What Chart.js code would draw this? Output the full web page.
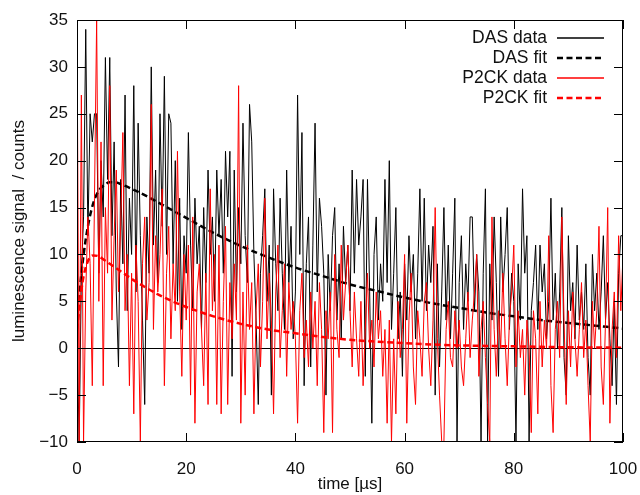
<!DOCTYPE html>
<html>
<head>
<meta charset="utf-8">
<script src="https://cdn.jsdelivr.net/npm/chart.js@4.4.1/dist/chart.umd.min.js"></script>
<style>
  html, body { margin: 0; padding: 0; background: #fff; }
  #wrap { width: 640px; height: 495px; }
</style>
</head>
<body>
<div id="wrap"><canvas id="chart" width="640" height="495"></canvas></div>
<script>
// one sample every 0.4 us, 0 .. 100 us
const timeStep = 0.4;

// DAS transient (counts)
const dasData = [
    2, -10, 8, 14, 34, 12, 25, 22, 25, 25, 8, 20, 14, 31, 18, 31, 12, 22, 6, -2, 18, 9, 27, 4, 16,
    10, 28, 6, 24, 12, 3, -6, 14, 8, 30, 11, 19, 7, 25, 13, 29, 10, 25, 24, 9, 20, 5, 16, 2, 12,
    8, 23, 11, 4, 16, 9, 13, 2, 15, 7, 19, 10, 14, 5, 19, 12, 18, 8, 21, 14, 21, -3, 19, 6, 15,
    9, 24, 12, 7, 26, 22, 10, 3, -6, 8, 12, 17, 5, 11, -5, 17, 9, 4, 16, 8, 2, 19, 7, 13, 1,
    6, 27, 10, 23, -4, 9, 14, -2, 11, 24, 6, 16, 13, 8, -5, 10, 4, 12, 15, 3, 9, 1, 13, 7, 11,
    4, 19, 8, 18, 11, 14, 18, -3, 18, 6, -8, 10, 14, 3, 9, 5, 18, 7, 20, 2, 8, 15, 1, 6, -3,
    9, 3, 12, 6, 10, 1, 8, 17, 5, 16, 4, 11, 7, 13, -5, 9, -2, 6, 15, 3, 11, 1, 8, 16, -10,
    7, 12, 2, 9, 5, 14, 14, 4, 10, 6, -10, 8, 17, -10, 9, 3, 14, 7, -3, 14, 6, 10, 15, 2, 8,
    5, -10, 9, 3, 17, 8, 12, -10, 4, 7, 11, 2, 11, 6, 9, 1, 5, 16, 3, 8, 0, 6, 15, -1, -5,
    12, 4, 7, 1, 11, 3, 6, 2, 9, -1, -5, 10, 4, 8, 2, 6, 12, 3, 7, 1, -4, 5, -6, 8, 12, 12
];

// P2CK transient (counts)
const p2ckData = [
    35, -10, 27, -10, 6, 14, 9, -4, 16, 35, 5, 22, -4, 15, 8, 28, 3, 12, 19, 6, 13, 23, 4, 10, -4,
    8, -7, 11, 5, -10, 9, 14, 3, 7, 26, 2, 12, 6, 10, 17, -4, 8, 13, 1, 9, 4, 21, 6, -3, 10,
    3, 11, -5, 14, -8, 6, 9, 2, -4, 8, -6, 17, 4, 10, -6, 11, -7, 5, 13, -6, 7, 1, 9, 3, 28,
    -8, 6, -5, 11, 2, 7, -7, 4, 9, -2, 5, 16, 1, 8, 3, -7, 6, 11, -1, 4, 9, -3, 7, 2, 5,
    1, -8, 4, 8, -1, 3, -2, 6, 0, 5, -4, 7, 2, -9, 4, 1, 6, -9, 10, 2, -1, 11, 3, 7, 11,
    4, -2, 6, 1, -3, 5, -4, 2, 8, 0, 3, -2, 6, 1, 4, -3, 2, -8, 3, -10, 1, -7, 5, -1, 2,
    10, -8, 3, 8, -2, -6, 4, 1, -3, 5, 7, 0, -4, 3, 15, 1, -5, -10, -10, 2, 5, -1, -2, 4, 0,
    3, -2, -4, 1, 6, -1, 3, 6, 10, -3, 2, 5, -1, -6, -10, 14, 2, -3, 4, 0, 8, 1, -4, 3, 6,
    11, -2, 4, -1, 2, -5, 3, 0, -9, 4, 1, -7, 5, -2, 3, 0, 12, -4, -9, 2, 5, -1, 14, 3, -6,
    4, -2, 6, 1, -3, 2, 7, -1, 3, -4, -10, 5, 0, 4, 13, -2, -6, 3, 15, -8, 2, 6, -1, 12, 4, 10
];

// fitted curves
const fitTime = [0, 1, 2, 3, 4, 5, 6, 7, 8, 10, 12.5, 15, 17.5, 20, 25, 30, 35, 40, 45, 50, 55, 60, 65, 70, 75, 80, 85, 90, 95, 100];
const dasFit = [3, 9, 13, 15.5, 16.8, 17.4, 17.7, 17.7, 17.5, 17.0, 16.3, 15.5, 14.7, 13.9, 12.3, 10.9, 9.7, 8.6, 7.7, 6.8, 6.1, 5.4, 4.8, 4.3, 3.8, 3.4, 3.0, 2.7, 2.4, 2.1];
const p2ckFit = [2, 7, 9.3, 9.9, 9.8, 9.4, 9.0, 8.6, 8.2, 7.4, 6.5, 5.7, 5.0, 4.4, 3.4, 2.6, 2.0, 1.6, 1.2, 0.9, 0.7, 0.55, 0.4, 0.3, 0.25, 0.2, 0.15, 0.1, 0.08, 0.06];

const xTicks = [0, 20, 40, 60, 80, 100];
const yTicks = [-10, -5, 0, 5, 10, 15, 20, 25, 30, 35];

const legendItems = [
    { label: 'DAS data', color: '#000', width: 1.3, dash: [] },
    { label: 'DAS fit', color: '#000', width: 2.5, dash: [6, 3.5] },
    { label: 'P2CK data', color: '#ff0000', width: 1.3, dash: [] },
    { label: 'P2CK fit', color: '#ff0000', width: 2.5, dash: [6, 3.5] }
];

const sampleTime = dasData.map((_, i) => +(i * timeStep).toFixed(1));
const toPoints = (times, values) => values.map((v, i) => ({ x: times[i], y: v }));

const fontFamily = '"Liberation Sans", Arial, Helvetica, sans-serif';
Chart.defaults.font.family = fontFamily;
Chart.defaults.font.size = 17;
Chart.defaults.color = '#111';

// gnuplot-like frame with inward ticks, plus the legend in the top right
const framePlugin = {
    id: 'frame',
    afterDatasetsDraw(chart) {
        const { ctx, chartArea: a, scales: { x, y } } = chart;
        ctx.save();
        ctx.strokeStyle = '#000';
        ctx.lineWidth = 1;
        ctx.setLineDash([]);
        ctx.strokeRect(a.left + 0.5, a.top + 0.5, a.right - a.left - 1, a.bottom - a.top - 1);

        ctx.beginPath();
        xTicks.forEach(v => {
            const px = Math.round(x.getPixelForValue(v)) + 0.5;
            ctx.moveTo(px, a.bottom); ctx.lineTo(px, a.bottom - 9);
            ctx.moveTo(px, a.top); ctx.lineTo(px, a.top + 9);
        });
        yTicks.forEach(v => {
            const py = Math.round(y.getPixelForValue(v)) + 0.5;
            ctx.moveTo(a.left, py); ctx.lineTo(a.left + 9, py);
            ctx.moveTo(a.right, py); ctx.lineTo(a.right - 9, py);
        });
        ctx.stroke();

        // legend
        ctx.font = '17.5px ' + fontFamily;
        ctx.textAlign = 'right';
        ctx.textBaseline = 'middle';
        legendItems.forEach((item, i) => {
            const ly = 38 + i * 20;
            ctx.fillStyle = '#111';
            ctx.fillText(item.label, 547, ly);
            ctx.beginPath();
            ctx.strokeStyle = item.color;
            ctx.lineWidth = item.width;
            ctx.setLineDash(item.dash);
            ctx.moveTo(557, ly);
            ctx.lineTo(604, ly);
            ctx.stroke();
        });
        ctx.restore();
    }
};

new Chart(document.getElementById('chart'), {
    type: 'line',
    data: {
        datasets: [
            {
                label: 'P2CK fit',
                data: toPoints(fitTime, p2ckFit),
                borderColor: '#ff0000',
                borderWidth: 2.5,
                borderDash: [6, 3.5],
                cubicInterpolationMode: 'monotone',
                pointRadius: 0,
                order: 1
            },
            {
                label: 'P2CK data',
                data: toPoints(sampleTime, p2ckData),
                borderColor: '#ff0000',
                borderWidth: 1,
                pointRadius: 0,
                order: 2
            },
            {
                label: 'DAS fit',
                data: toPoints(fitTime, dasFit),
                borderColor: '#000',
                borderWidth: 2.5,
                borderDash: [6, 3.5],
                cubicInterpolationMode: 'monotone',
                pointRadius: 0,
                order: 3
            },
            {
                label: 'DAS data',
                data: toPoints(sampleTime, dasData),
                borderColor: '#000',
                borderWidth: 1,
                pointRadius: 0,
                order: 4
            }
        ]
    },
    options: {
        responsive: false,
        animation: false,
        layout: {
            padding: { top: 20, right: 17, left: 0, bottom: 0 }
        },
        plugins: {
            legend: { display: false },
            tooltip: { enabled: false }
        },
        scales: {
            x: {
                type: 'linear',
                min: 0,
                max: 100,
                afterFit: scale => {
                    scale.height = 53;
                    scale.paddingLeft = 0;
                    scale.paddingRight = 0;
                },
                afterBuildTicks: scale => { scale.ticks = xTicks.map(v => ({ value: v })); },
                ticks: {
                    padding: 9,
                    maxRotation: 0
                },
                grid: { display: false },
                border: { display: false },
                title: {
                    display: true,
                    text: 'time [µs]',
                    font: { size: 17 },
                    padding: { top: 0, bottom: 0 }
                }
            },
            y: {
                min: -10,
                max: 35,
                afterFit: scale => {
                    scale.width = 77;
                    scale.paddingTop = 0;
                    scale.paddingBottom = 0;
                },
                afterBuildTicks: scale => { scale.ticks = yTicks.map(v => ({ value: v })); },
                ticks: {
                    padding: 9,
                    callback: v => (v < 0 ? '\u2212' + Math.abs(v) : String(v))
                },
                grid: {
                    drawTicks: false,
                    color: ctx => (ctx.tick && ctx.tick.value === 0 ? '#000' : 'rgba(0,0,0,0)'),
                    lineWidth: 1
                },
                border: { display: false },
                title: {
                    display: true,
                    text: 'luminescence signal  / counts',
                    font: { size: 17 },
                    padding: { top: 9, bottom: 0 }
                }
            }
        }
    },
    plugins: [framePlugin]
});
</script>
</body>
</html>
